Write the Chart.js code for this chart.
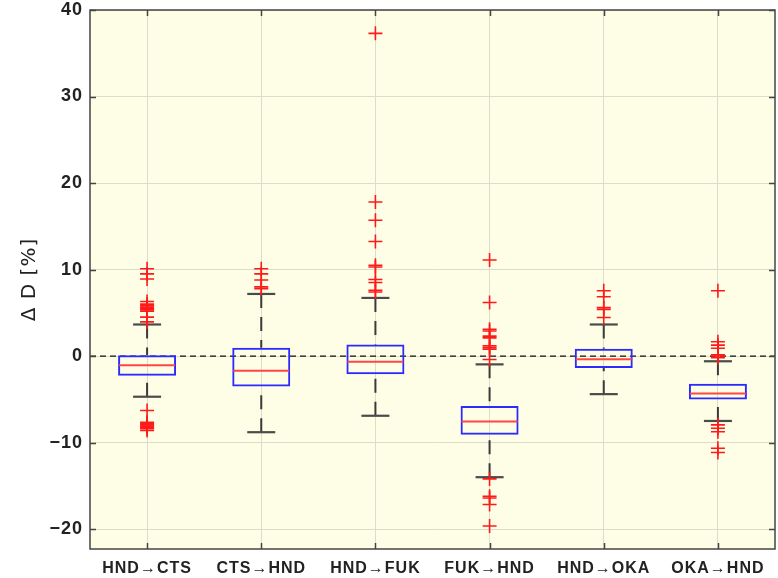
<!DOCTYPE html>
<html>
<head>
<meta charset="utf-8">
<script src="https://cdn.jsdelivr.net/npm/chart.js@4/dist/chart.umd.min.js"></script>
<style>
  html, body { margin: 0; padding: 0; background: #ffffff; }
  #wrap { width: 778px; height: 578px; }
</style>
</head>
<body>
<div id="wrap"><canvas id="c" width="778" height="578"></canvas></div>
<script>
// ---- data ----
const categories = ['HND→CTS', 'CTS→HND', 'HND→FUK', 'FUK→HND', 'HND→OKA', 'OKA→HND'];
const whiskerLow  = [-4.7, -8.8, -6.9, -14.0, -4.4, -7.5];
const q1          = [-2.27, -3.53, -2.11, -9.1, -1.38, -5.03];
const median      = [-1.07, -1.69, -0.65, -7.57, -0.38, -4.33];
const q3          = [0.1, 0.96, 1.34, -5.76, 0.84, -3.2];
const whiskerHigh = [3.65, 7.18, 6.72, -0.96, 3.65, -0.6];

const outliersHNDCTS = [10.1, 9.5, 8.9, 6.3, 6.0, 5.8, 5.65, 5.5, 5.35, 5.2, 4.5, 3.95,
                        -6.3, -7.65, -7.8, -7.95, -8.1, -8.25, -8.4, -8.6];
const outliersCTSHND = [10.1, 9.5, 8.8, 8.0, 7.8];
const outliersHNDFUK = [37.3, 17.8, 15.7, 13.25, 10.5, 10.3, 8.85, 8.5, 7.6, 7.4];
const outliersFUKHND = [11.1, 6.2, 3.1, 2.9, 2.3, 2.1, 1.2, 1.0, 0.8, -0.4,
                        -14.2, -16.2, -16.4, -17.15, -19.65];
const outliersHNDOKA = [7.55, 6.85, 5.6, 5.4, 4.45];
const outliersOKAHND = [7.55, 1.65, 1.27, 0.9, 0.15, 0.0, -0.2, -7.95, -8.35, -8.75, -10.65, -11.15];

const yTickValues = [-20, -10, 0, 10, 20, 30, 40];
const yTitle = 'Δ D [%]';

// ---- build datasets ----
const outlierLists = [outliersHNDCTS, outliersCTSHND, outliersHNDFUK, outliersFUKHND, outliersHNDOKA, outliersOKAHND];
const outlierPts = outlierLists.flatMap((arr, i) => arr.map(v => ({ x: i, y: v })));
const boxPts = categories.map((c, i) => ({ x: i, y: [q1[i], q3[i]] }));
const medianPts = categories.map((c, i) => ({ x: i, y: median[i] }));
const capPts = categories.flatMap((c, i) => [{ x: i, y: whiskerLow[i] }, { x: i, y: whiskerHigh[i] }]);
const whiskerPts = categories.flatMap((c, i) => [
  { x: i, y: whiskerHigh[i] }, { x: i, y: q3[i] }, { x: i, y: null },
  { x: i, y: whiskerLow[i] }, { x: i, y: q1[i] }, { x: i, y: null }
]);
const zeroPts = [{ x: -0.5, y: 0 }, { x: categories.length - 0.5, y: 0 }];

const plotDecor = {
  id: 'plotDecor',
  beforeDraw(chart) {
    const a = chart.chartArea, ctx = chart.ctx;
    ctx.save();
    ctx.fillStyle = '#fefee6';
    ctx.fillRect(a.left, a.top, a.right - a.left, a.bottom - a.top);
    ctx.restore();
    ctx.letterSpacing = '1px';
  },
  afterDraw(chart) {
    const a = chart.chartArea, ctx = chart.ctx;
    const xs = chart.scales.x, ys = chart.scales.y;
    ctx.save();
    ctx.strokeStyle = '#444';
    ctx.lineWidth = 1.5;
    ctx.beginPath();
    ys.ticks.forEach(t => {
      const y = Math.round(ys.getPixelForValue(t.value)) + 0.5;
      ctx.moveTo(a.left, y); ctx.lineTo(a.left + 6, y);
      ctx.moveTo(a.right, y); ctx.lineTo(a.right - 6, y);
    });
    xs.ticks.forEach(t => {
      const x = Math.round(xs.getPixelForValue(t.value)) + 0.5;
      ctx.moveTo(x, a.bottom); ctx.lineTo(x, a.bottom - 6);
      ctx.moveTo(x, a.top); ctx.lineTo(x, a.top + 6);
    });
    ctx.stroke();
    ctx.strokeRect(a.left, a.top, a.right - a.left, a.bottom - a.top);
    ctx.restore();
    ctx.letterSpacing = '0px';
  }
};

new Chart(document.getElementById('c'), {
  type: 'bar',
  data: {
    datasets: [
      { type: 'line', data: zeroPts, borderColor: '#111', borderWidth: 1.3, borderDash: [6, 4],
        pointRadius: 0, fill: false, order: 7 },
      { type: 'line', data: whiskerPts, borderColor: '#3a3a3a', borderWidth: 2, borderDash: [14, 9],
        pointRadius: 0, fill: false, spanGaps: false, order: 6 },
      { type: 'scatter', data: capPts, pointStyle: 'line', pointRadius: 14, pointBorderWidth: 2.2,
        pointBorderColor: '#4a4a4a', borderColor: '#4a4a4a', order: 5 },
      { type: 'bar', data: boxPts, backgroundColor: 'rgba(0,0,0,0)', borderColor: '#2b2bff',
        borderWidth: 2, borderSkipped: false, categoryPercentage: 1, barPercentage: 0.508, order: 4 },
      { type: 'scatter', data: medianPts, pointStyle: 'line', pointRadius: 28, pointBorderWidth: 2,
        pointBorderColor: '#ff4545', borderColor: '#ff4545', order: 3 },
      { type: 'scatter', data: outlierPts, pointStyle: 'cross', pointRadius: 7, pointBorderWidth: 1.6,
        pointBorderColor: '#ff1a1a', borderColor: '#ff1a1a', order: 2 }
    ]
  },
  options: {
    responsive: false,
    animation: false,
    devicePixelRatio: 1,
    events: [],
    layout: { autoPadding: false, padding: { top: 10, right: 3, left: 0, bottom: 0 } },
    plugins: { legend: { display: false }, tooltip: { enabled: false } },
    scales: {
      x: {
        type: 'linear',
        min: -0.5,
        max: categories.length - 0.5,
        offset: false,
        grid: { offset: false, color: '#dcdccb', lineWidth: 1, drawTicks: false },
        border: { display: false },
        afterBuildTicks: s => { s.ticks = categories.map((c, i) => ({ value: i })); },
        afterFit: s => { s.height = 29; s.paddingLeft = 0; s.paddingRight = 0; },
        ticks: {
          autoSkip: false, maxRotation: 0, minRotation: 0, padding: 10,
          color: '#222',
          font: { family: 'Liberation Sans', size: 16, weight: 'bold' },
          callback: v => categories[v]
        }
      },
      y: {
        type: 'linear',
        min: -22.3,
        max: 40,
        beginAtZero: false,
        grid: { color: '#dcdccb', lineWidth: 1, drawTicks: false },
        border: { display: false },
        afterBuildTicks: s => { s.ticks = yTickValues.map(v => ({ value: v })); },
        afterFit: s => { s.width = 90; s.paddingTop = 0; s.paddingBottom = 0; },
        ticks: {
          padding: 7,
          color: '#222',
          font: { family: 'Liberation Sans', size: 18, weight: 'bold' },
          callback: v => (v < 0 ? '\u2212' + Math.abs(v) : String(v))
        },
        title: {
          display: true,
          text: yTitle,
          color: '#222',
          font: { family: 'DejaVu Sans', size: 20 },
          padding: { top: 18, bottom: 0 }
        }
      }
    }
  },
  plugins: [plotDecor]
});
</script>
</body>
</html>
